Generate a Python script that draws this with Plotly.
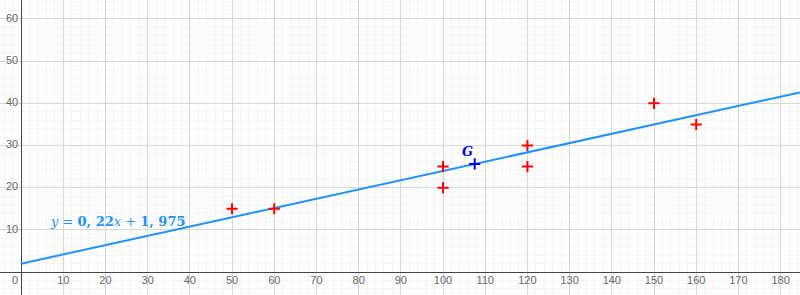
import plotly.graph_objects as go

# data
xs = [50, 60, 100, 100, 120, 120, 150, 160]
ys = [15, 15, 25, 20, 30, 25, 40, 35]
slope = 0.22
intercept = 1.975
gx = sum(xs) / len(xs)
gy = sum(ys) / len(ys)
x_ticks = list(range(10, 181, 10))
y_ticks = list(range(10, 61, 10))

x_range = [-5.0, 184.6]
y_range = [-5.45, 64.5]

fig = go.Figure()

# regression line from x=0 to right edge
lx = [0, x_range[1]]
fig.add_trace(go.Scatter(x=lx, y=[slope * v + intercept for v in lx], mode="lines",
                         line=dict(color="#1E90FF", width=2), hoverinfo="skip"))

# points
fig.add_trace(go.Scatter(x=xs, y=ys, mode="markers",
                         marker=dict(symbol="cross-thin", size=8, line=dict(color="#FF0000", width=2))))
fig.add_trace(go.Scatter(x=[gx], y=[gy], mode="markers",
                         marker=dict(symbol="cross-thin", size=8, line=dict(color="#0000EE", width=2))))

# tick labels as text
tick_font = dict(family="Arial, Liberation Sans", size=11, color="#666666")
fig.add_trace(go.Scatter(x=x_ticks, y=[-2.2] * len(x_ticks), mode="text",
                         text=[str(v) for v in x_ticks], textposition="middle center",
                         textfont=tick_font, hoverinfo="skip"))
fig.add_trace(go.Scatter(x=[-0.7] * len(y_ticks), y=y_ticks, mode="text",
                         text=[str(v) for v in y_ticks], textposition="middle left",
                         textfont=tick_font, hoverinfo="skip"))
fig.add_trace(go.Scatter(x=[-0.7], y=[-2.2], mode="text", text=["0"], textposition="middle left",
                         textfont=tick_font, hoverinfo="skip"))

fig.add_annotation(x=22.8, y=11.9, text="<i>y</i> = <b>0, 22</b><i>x</i> + <b>1, 975</b>",
                   showarrow=False, font=dict(family="DejaVu Serif", size=13, color="#1E90FF"))
fig.add_annotation(x=105.9, y=28.6, text="<b><i>G</i></b>", showarrow=False,
                   font=dict(family="DejaVu Serif", size=13, color="#0000EE"))

axis_common = dict(showticklabels=False, ticks="", showline=False,
                   zeroline=True, zerolinecolor="#444444", zerolinewidth=1,
                   gridcolor="#d6d6d6", gridwidth=1,
                   minor=dict(dtick=2, showgrid=True, gridcolor="#f3f3f3", gridwidth=1))
fig.update_xaxes(range=x_range, dtick=10, tick0=0, **axis_common)
fig.update_yaxes(range=y_range, dtick=10, tick0=0, **axis_common)

fig.update_layout(width=800, height=295, margin=dict(l=0, r=0, t=0, b=0),
                  plot_bgcolor="white", paper_bgcolor="white", showlegend=False)

fig.write_html("out.html")
